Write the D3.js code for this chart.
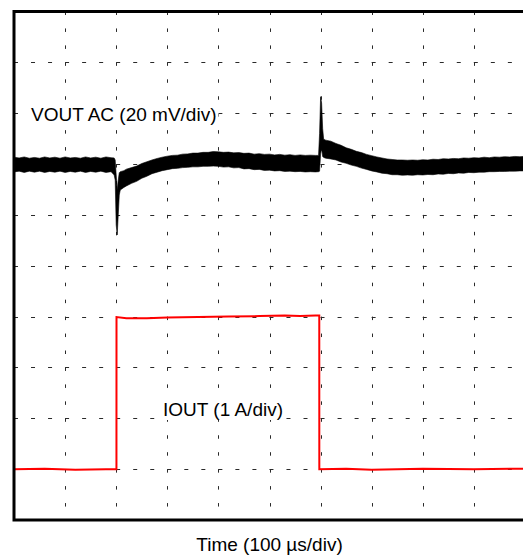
<!DOCTYPE html>
<html>
<head>
<meta charset="utf-8">
<script src="https://cdn.jsdelivr.net/npm/d3@7"></script>
<style>
  html, body { margin: 0; padding: 0; background: #fff; }
  svg { display: block; }
  text { font-family: "Liberation Sans", Arial, Helvetica, sans-serif; fill: #000; }
</style>
</head>
<body>
<svg id="chart" width="523" height="555"></svg>
<script>
// ---- data ----
// time in µs, 100 µs/div, 10 divisions
const gridTimes = [100, 200, 300, 400, 500, 600, 700, 800, 900];
const gridDivs = [1, 2, 3, 4, 5, 6, 7, 8, 9];

// VOUT AC trace envelope (mV, 20 mV/div), upper and lower edge of the noisy band
const vTime = [
  0, 10, 20, 30, 40, 50, 60, 70, 80, 90, 100, 110, 120, 130, 140, 150, 160, 170, 180, 190,
  196, 198, 200, 202, 204, 206, 208, 215, 220,
  230, 240, 250, 260, 270, 280, 290, 300, 310, 320, 330, 340, 350, 360, 370, 380, 390, 400,
  410, 420, 430, 440, 450, 460, 470, 480, 490, 500, 510, 520, 530, 540, 550, 560, 570, 580, 590,
  596, 598, 600, 602, 604, 606, 610,
  620, 630, 640, 650, 660, 670, 680, 690, 700, 710, 720, 730, 740, 750, 760, 770, 780, 790, 800,
  810, 820, 830, 840, 850, 860, 870, 880, 890, 900, 910, 920, 930, 940, 950, 960, 970, 980, 990, 1000
];
const vHigh = [
  2.7, 2.4, 2.8, 2.3, 2.6, 2.3, 2.8, 2.4, 2.7, 2.3, 2.8, 2.4, 2.6, 2.3, 2.8, 2.4, 2.7, 2.3, 2.8, 2.5,
  2.4, 1.6, -4.3, -10.2, -6.3, -3.4, -3.0, -2.6, -2.0,
  -1.4, -0.8, 0.2, 0.9, 1.6, 2.2, 2.7, 3.1, 3.4, 3.5, 3.9, 4.0, 4.3, 4.3, 4.6, 4.6, 4.9, 4.8,
  4.6, 4.7, 4.4, 4.5, 4.2, 4.3, 3.9, 4.1, 3.8, 3.9, 3.6, 3.8, 3.5, 3.7, 3.4, 3.6, 3.4, 3.5, 3.4,
  3.4, 12, 26.5, 24, 14, 9.8, 9.4,
  9.0, 8.1, 7.4, 6.4, 5.8, 5.0, 4.5, 3.8, 3.3, 2.8, 2.4, 2.0, 1.8, 1.6, 1.6, 1.5, 1.6, 1.5, 1.7,
  1.6, 1.9, 1.8, 2.1, 2.0, 2.2, 2.1, 2.4, 2.3, 2.5, 2.4, 2.7, 2.5, 2.8, 2.7, 2.9, 2.8, 3.0, 2.9, 3.0
];
const vLow = [
  -3.1, -2.8, -3.3, -2.8, -3.2, -2.8, -3.3, -2.9, -3.2, -2.8, -3.3, -2.9, -3.2, -2.8, -3.3, -2.9, -3.2, -2.8, -3.3, -3.0,
  -4.3, -6.3, -24, -27.9, -20, -12.2, -10.2, -9.2, -8.6,
  -7.6, -6.8, -5.6, -4.8, -3.8, -3.2, -2.6, -2.2, -1.8, -1.7, -1.4, -1.3, -1.1, -1.1, -0.9, -0.9, -0.8, -0.9,
  -1.2, -1.1, -1.5, -1.4, -1.9, -1.8, -2.2, -2.1, -2.5, -2.4, -2.7, -2.6, -2.9, -2.8, -3.0, -2.9, -3.1, -3.0, -3.1,
  -3.0, -2.8, 4, 6, 3, 2.6, 2.3,
  2.0, 1.6, 0.8, 0.3, -0.4, -0.9, -1.6, -2.1, -2.7, -3.1, -3.6, -3.8, -4.2, -4.2, -4.4, -4.3, -4.4, -4.2, -4.3,
  -4.1, -4.2, -3.9, -4.0, -3.7, -3.8, -3.5, -3.6, -3.3, -3.4, -3.2, -3.2, -3.0, -3.0, -2.9, -2.9, -2.8, -2.8, -2.7, -2.7
];

// IOUT trace (A, 1 A/div)
const iTime = [0, 60, 120, 180, 200.5, 200.6, 220, 260, 300, 360, 420, 480, 530, 560, 590, 597.4, 597.5, 650, 700, 800, 900, 1000];
const iAmps = [0, 0.01, -0.01, 0, 0, 2.99, 2.97, 2.97, 2.98, 2.99, 3.0, 3.01, 3.02, 3.01, 3.02, 3.02, 0, 0.01, -0.01, 0.01, 0, 0.01];

const labels = {
  vout: "VOUT AC (20 mV/div)",
  iout: "IOUT (1 A/div)",
  time: "Time (100 µs/div)"
};

// ---- scales ----
const pLeft = 14, pRight = 525, pTop = 11.5, pBottom = 520;
const x = d3.scaleLinear().domain([0, 1000]).range([pLeft, pRight]);
const yDiv = d3.scaleLinear().domain([0, 10]).range([pBottom, pTop]);
// 20 mV/div, 0 mV at division 7
const yV = d3.scaleLinear().domain([-140, 60]).range([pBottom, pTop]);
// 1 A/div, 0 A at division 1
const yI = d3.scaleLinear().domain([-1, 9]).range([pBottom, pTop]);

const svg = d3.select("#chart");

// ---- grid ----
const divW = (pRight - pLeft) / 10, divH = (pBottom - pTop) / 10;
const dashW = `4,${(divW / 3 - 4).toFixed(2)}`;
const dashH = `3.5,${(divH / 3 - 3.5).toFixed(2)}`;
const grid = svg.append("g").attr("stroke", "#2a2a2a").attr("stroke-width", 1).attr("fill", "none");
grid.selectAll("line.v").data(gridTimes).join("line")
  .attr("class", "v")
  .attr("x1", d => Math.round(x(d)) + 0.5).attr("x2", d => Math.round(x(d)) + 0.5)
  .attr("y1", pTop).attr("y2", pBottom)
  .attr("stroke-dasharray", dashH);
grid.selectAll("line.h").data(gridDivs).join("line")
  .attr("class", "h")
  .attr("y1", d => Math.round(yDiv(d)) + 0.5).attr("y2", d => Math.round(yDiv(d)) + 0.5)
  .attr("x1", pLeft).attr("x2", pRight)
  .attr("stroke-dasharray", dashW);

// ---- labels inside the plot (white box behind so the grid does not run through) ----
function boxedLabel(txt, lx, ly) {
  const g = svg.append("g");
  const r = g.append("rect").attr("fill", "#fff");
  const t = g.append("text").attr("x", lx).attr("y", ly).attr("font-size", 19).text(txt);
  const b = t.node().getBBox();
  r.attr("x", b.x - 2).attr("y", b.y).attr("width", b.width + 4).attr("height", b.height);
}
boxedLabel(labels.vout, 31, 121);
boxedLabel(labels.iout, 163, 416);

// ---- VOUT band ----
const vData = vTime.map((t, i) => ({ t, hi: vHigh[i], lo: vLow[i] }));
const area = d3.area().x(d => x(d.t)).y0(d => yV(d.lo)).y1(d => yV(d.hi));
svg.append("path").datum(vData)
  .attr("d", area)
  .attr("fill", "#000").attr("stroke", "#000").attr("stroke-width", 0.6).attr("stroke-linejoin", "round");

// ---- IOUT trace ----
const iData = iTime.map((t, i) => ({ t, a: iAmps[i] }));
svg.append("path").datum(iData)
  .attr("d", d3.line().x(d => x(d.t)).y(d => yI(d.a)))
  .attr("fill", "none").attr("stroke", "#ff0000").attr("stroke-width", 2);

// ---- frame ----
svg.append("rect")
  .attr("x", pLeft).attr("y", pTop)
  .attr("width", pRight - pLeft).attr("height", pBottom - pTop)
  .attr("fill", "none").attr("stroke", "#000").attr("stroke-width", 3);

// ---- axis title ----
svg.append("text").attr("x", (pLeft + pRight) / 2).attr("y", 551)
  .attr("text-anchor", "middle").attr("font-size", 19).text(labels.time);
</script>
</body>
</html>
